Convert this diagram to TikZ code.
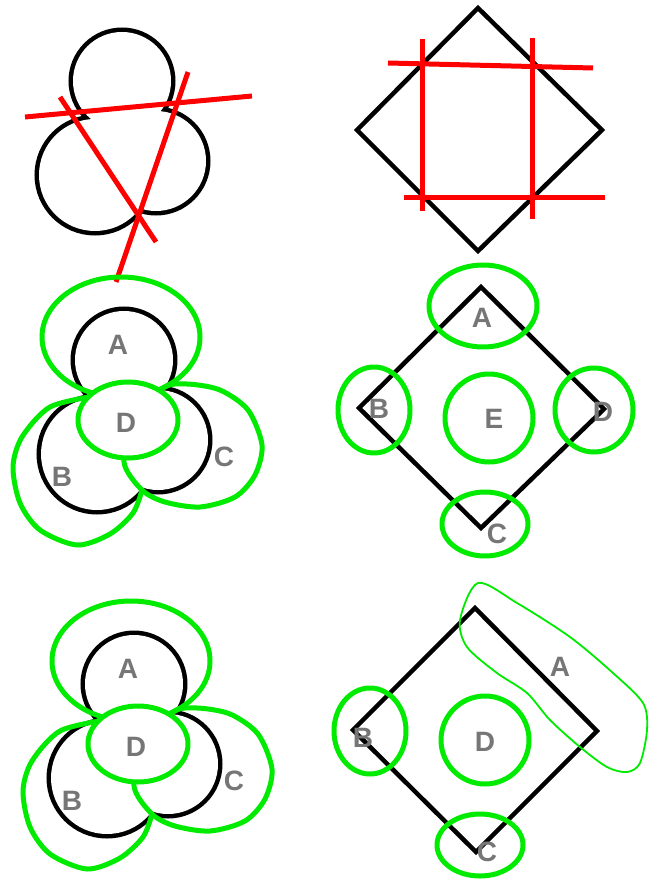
\documentclass[tikz,border=0pt]{standalone}
\usepackage{fontspec}
\setmainfont{Liberation Sans}
\definecolor{lgreen}{RGB}{0,235,0}
\definecolor{lgray}{RGB}{118,118,118}
\newcommand\mytrefoil{%
  \draw[black,line width=9pt] (122,81) circle[radius=49pt] (95,175) circle[radius=56pt] (156,161) circle[radius=50pt];
  \fill[white] (122,81) circle[radius=49pt] (95,175) circle[radius=56pt] (156,161) circle[radius=50pt];}
\newcommand\mypetals[1]{%
  \begin{scope}[shift={(2,279)}]\mytrefoil\end{scope}
  \draw[grn] (121,337) ellipse[x radius=79pt, y radius=60pt];
  \draw[grn] plot[smooth] coordinates {(95,396) (50,407) (22,437) (13,467) (20,503) (40,530) (77,545) (110,534) (133,513) (142,490)};
  \draw[grn] plot[smooth cycle] coordinates {(163,388) (187,384) (220,390) (248,410) (262,445) (255,475) (235,497) (200,507) (165,502) (142,490) (124,462) (135,420)};
  \draw[grn,fill=white] (128,420) ellipse[x radius=50pt, y radius=38pt];
  \node[lbl] (#1A) at (118,345) {A};
  \node[lbl] (#1D) at (126,423) {D};
  \node[lbl] (#1B) at (62,477) {B};
  \node[lbl] (#1C) at (224,457) {C};}
\begin{document}
\begin{tikzpicture}[x=1pt,y=-1pt,
  blk/.style={draw=black,line width=4.5pt,line join=miter},
  grn/.style={draw=lgreen,line width=5pt,line join=round},
  redl/.style={draw=red,line width=5pt},
  lbl/.style={text=lgray,font=\fontsize{28}{30}\selectfont\bfseries,inner sep=0pt}]
\useasboundingbox (0,0) rectangle (656,882);
\fill[white] (0,0) rectangle (656,882);
% panel 1
\mytrefoil
\draw[redl] (25,117) -- (252,96);
\draw[redl] (60,97) -- (156,242);
\draw[redl] (188,72) -- (116,282);
% panel 2
\draw[blk] (478,8) -- (602,130) -- (478,251) -- (357,130) -- cycle;
\draw[redl] (388,63) -- (593,68);
\draw[redl] (404,198) -- (605,198);
\draw[redl] (422,39) -- (422,211);
\draw[redl] (532,38) -- (532,219);
% panel 3
\mypetals{p}
% panel 5
\begin{scope}[shift={(10,324)}]\mypetals{q}\end{scope}
% panel 4
\draw[blk] (481,287) -- (604,409) -- (481,528) -- (359,408) -- cycle;
\draw[grn] (483,306) ellipse[x radius=54pt, y radius=41pt];
\draw[grn] (374,410) ellipse[x radius=36pt, y radius=43pt];
\draw[grn] (489,418) circle[radius=44pt];
\draw[grn] (594,410) ellipse[x radius=39pt, y radius=42pt];
\draw[grn] (485,524) ellipse[x radius=43pt, y radius=32pt];
\node[lbl] (rA) at (482,318) {A};
\node[lbl] (rB) at (379,409) {B};
\node[lbl] (rE) at (494,419) {E};
\node[lbl] (rD) at (603,412) {D};
\node[lbl] (rC) at (497,534) {C};
% panel 6
\draw[blk] (475,608) -- (597,731) -- (476,852) -- (353,730) -- cycle;
\draw[grn] (370,731) ellipse[x radius=36pt, y radius=43pt];
\draw[grn] (485,740) circle[radius=44pt];
\draw[grn] (480,845) ellipse[x radius=43pt, y radius=31pt];
\draw[draw=lgreen,line width=1.8pt] plot[smooth cycle] coordinates {(478,583) (460,620) (467,647) (497,673) (527,693) (550,720) (580,747) (607,767) (627,772) (640,763) (647,730) (643,703) (613,673) (570,637) (517,603)};
\node[lbl] (sA) at (560,667) {A};
\node[lbl] (sB) at (363,738) {B};
\node[lbl] (sD) at (485,742) {D};
\node[lbl] (sC) at (487,852) {C};
\end{tikzpicture}
\end{document}
